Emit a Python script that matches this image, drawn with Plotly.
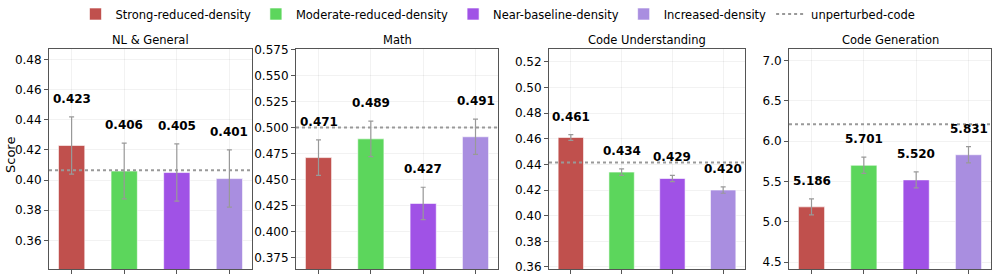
import plotly.graph_objects as go

categories = ["Strong-reduced-density", "Moderate-reduced-density",
              "Near-baseline-density", "Increased-density"]
panel_titles = ["NL & General", "Math", "Code Understanding", "Code Generation"]

nl_scores = [0.423, 0.406, 0.405, 0.401]
nl_err = [0.019, 0.0185, 0.019, 0.019]
nl_baseline = 0.4065

math_scores = [0.471, 0.489, 0.427, 0.491]
math_err = [0.017, 0.017, 0.0155, 0.017]
math_baseline = 0.500

cu_scores = [0.461, 0.434, 0.429, 0.420]
cu_err = [0.0022, 0.0025, 0.0024, 0.0025]
cu_baseline = 0.4415

cg_scores = [5.186, 5.701, 5.520, 5.831]
cg_err = [0.10, 0.10, 0.10, 0.10]
cg_baseline = 6.21

colors = ["#c0504d", "#5cd65c", "#a052e6", "#a98ee0"]
baseline_label = "unperturbed-code"

W, H = 996, 278
FONT = "DejaVu Sans"
ML, MR, MT, MB = 49, 5, 49, 9
PW, PH = W - ML - MR, H - MT - MB

panels = [
    dict(scores=nl_scores, err=nl_err, base=nl_baseline, rng=[0.341, 0.487],
         tick0=0.36, dtick=0.02, fmt=".2f", px=(49, 252)),
    dict(scores=math_scores, err=math_err, base=math_baseline, rng=[0.364, 0.5753],
         tick0=0.375, dtick=0.025, fmt=".3f", px=(296, 498)),
    dict(scores=cu_scores, err=cu_err, base=cu_baseline, rng=[0.3584, 0.530],
         tick0=0.36, dtick=0.02, fmt=".2f", px=(549, 745)),
    dict(scores=cg_scores, err=cg_err, base=cg_baseline, rng=[4.417, 7.14],
         tick0=4.5, dtick=0.5, fmt=".1f", px=(789, 991)),
]

fig = go.Figure()
annotations = []
shapes = []
layout_axes = {}

for p_i, p in enumerate(panels):
    n = p_i + 1
    xa = "x" if n == 1 else f"x{n}"
    ya = "y" if n == 1 else f"y{n}"
    xkey = "xaxis" if n == 1 else f"xaxis{n}"
    ykey = "yaxis" if n == 1 else f"yaxis{n}"
    for c_i, cat in enumerate(categories):
        fig.add_trace(go.Bar(
            x=[cat], y=[p["scores"][c_i]], xaxis=xa, yaxis=ya,
            name=cat, legendgroup=cat, showlegend=(n == 1),
            width=0.5, marker=dict(color=colors[c_i],
                                   line=dict(color="rgba(255,255,255,0.6)", width=1)),
            error_y=dict(type="data", array=[p["err"][c_i]], color="#999999",
                         thickness=1.2, width=2.5),
            hoverinfo="skip",
        ))
        annotations.append(dict(
            x=cat, y=p["scores"][c_i] + p["err"][c_i], xref=xa, yref=ya,
            text=f"<b>{p['scores'][c_i]:.3f}</b>", showarrow=False,
            yanchor="bottom", yshift=9,
            font=dict(family=FONT, size=12, color="black")))
    shapes.append(dict(type="line", xref=f"{xa} domain", yref=ya,
                       x0=0, x1=1, y0=p["base"], y1=p["base"],
                       line=dict(color="#999999", width=2, dash="dot")))
    x0, x1 = p["px"]
    layout_axes[xkey] = dict(
        domain=[(x0 - ML) / PW, (x1 - ML) / PW], anchor=ya, type="category",
        categoryorder="array", categoryarray=categories,
        range=[-0.43, 3.43], showticklabels=False, automargin=False,
        ticks="outside", ticklen=4, tickcolor="#555",
        showgrid=True, gridcolor="rgba(0,0,0,0.05)",
        showline=True, linecolor="#555", linewidth=1, mirror=True, zeroline=False)
    layout_axes[ykey] = dict(
        domain=[0, 1], anchor=xa, range=p["rng"], tick0=p["tick0"], dtick=p["dtick"],
        tickformat=p["fmt"], ticks="outside", ticklen=4, tickcolor="#555",
        tickfont=dict(family=FONT, size=12, color="black"), automargin=False,
        showgrid=True, gridcolor="rgba(0,0,0,0.05)",
        showline=True, linecolor="#555", linewidth=1, mirror=True, zeroline=False)
    annotations.append(dict(
        x=((x0 + x1) / 2 - ML) / PW, y=(H - 40 - MB) / PH, xref="paper", yref="paper",
        text=panel_titles[p_i], showarrow=False, xanchor="center", yanchor="middle",
        font=dict(family=FONT, size=11.5, color="black")))

# legend entry for baseline
fig.add_trace(go.Scatter(
    x=[None], y=[None], mode="lines", name=baseline_label,
    line=dict(color="#999999", width=2, dash="dot"), showlegend=True,
    xaxis="x", yaxis="y"))

annotations.append(dict(
    x=(10 - ML) / PW, y=(H - 155 - MB) / PH, xref="paper", yref="paper", text="Score",
    textangle=-90, showarrow=False, xanchor="center", yanchor="middle",
    font=dict(family=FONT, size=13, color="black")))

fig.update_layout(
    width=W, height=H, margin=dict(l=ML, r=MR, t=MT, b=MB, autoexpand=False),
    paper_bgcolor="white", plot_bgcolor="white",
    barmode="overlay",
    font=dict(family=FONT, size=11, color="black"),
    legend=dict(orientation="h", x=(498 - ML) / PW, xanchor="center",
                y=(H - 14 - MB) / PH, yanchor="middle",
                font=dict(family=FONT, size=11.5), bgcolor="rgba(0,0,0,0)"),
    annotations=annotations, shapes=shapes,
    **layout_axes,
)

fig.write_html(
    "out.html",
    config={"displayModeBar": False},
    post_script="document.body.style.margin='0';document.body.style.overflow='hidden';",
)
